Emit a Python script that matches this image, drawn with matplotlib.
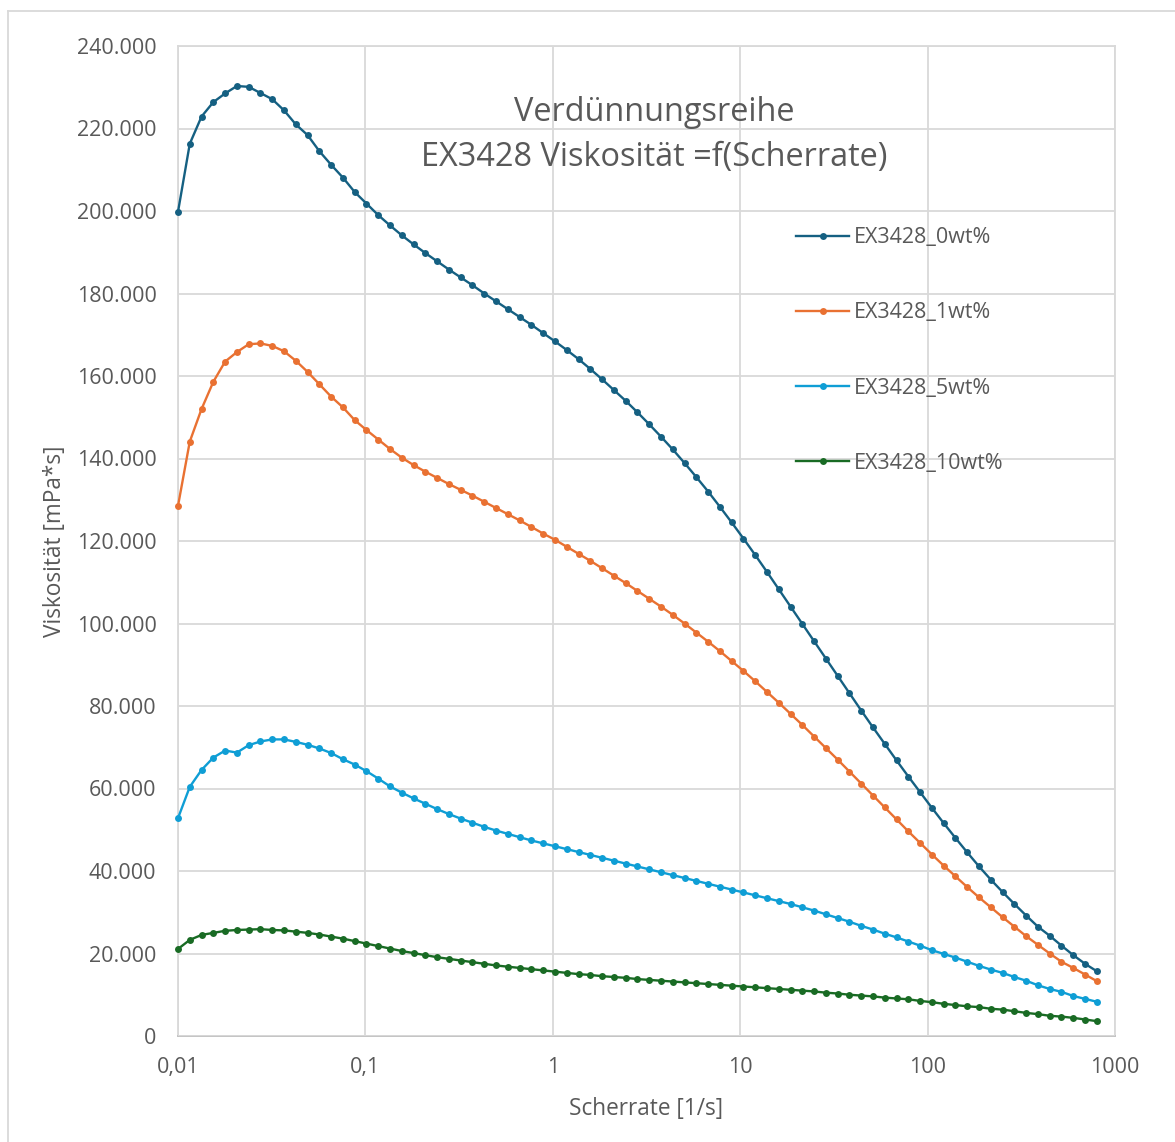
import numpy as np
import matplotlib
matplotlib.use("Agg")
import matplotlib.pyplot as plt
from matplotlib.ticker import FuncFormatter, FixedLocator
from matplotlib.lines import Line2D

plt.rcParams['font.family'] = ['Open Sans', 'DejaVu Sans']

# shear rate grid of the rheometer ramp: 79 log-spaced points, 0.01 .. 800 1/s
scherrate = np.geomspace(0.01, 800, 79)

# viscosity in mPa*s
visk_0wt = [
    199800, 216300, 222900, 226400, 228500, 230300, 230100, 228600, 227100, 224400,
    221000, 218400, 214500, 211200, 208100, 204600, 201800, 199000, 196500, 194100,
    191900, 189800, 187800, 185800, 183900, 182000, 180000, 178100, 176200, 174300,
    172400, 170400, 168400, 166300, 164100, 161700, 159200, 156600, 154000, 151200,
    148300, 145300, 142200, 138900, 135500, 132000, 128300, 124500, 120600, 116600,
    112500, 108300, 104100, 99900, 95700, 91500, 87300, 83100, 78900, 74800,
    70800, 66800, 62900, 59100, 55300, 51600, 48000, 44500, 41100, 37900,
    34900, 32000, 29200, 26500, 24300, 21900, 19600, 17500, 15700]
visk_1wt = [
    128500, 144100, 152000, 158600, 163500, 165800, 167700, 167900, 167300, 166000,
    163700, 161000, 158000, 155000, 152400, 149300, 146900, 144600, 142300, 140200,
    138400, 136800, 135300, 133800, 132400, 131000, 129500, 128000, 126500, 125000,
    123400, 121800, 120300, 118600, 116900, 115200, 113400, 111600, 109800, 107900,
    106000, 104100, 102100, 100000, 97800, 95600, 93300, 90900, 88500, 86000,
    83400, 80800, 78100, 75400, 72600, 69800, 67000, 64100, 61200, 58300,
    55400, 52500, 49600, 46800, 44000, 41300, 38700, 36100, 33600, 31200,
    28800, 26500, 24200, 22100, 20000, 18000, 16500, 14900, 13300]
visk_5wt = [
    52800, 60400, 64500, 67500, 69200, 68700, 70500, 71400, 71900, 71900,
    71300, 70600, 69700, 68600, 67100, 65800, 64200, 62400, 60500, 59000,
    57600, 56300, 55000, 53800, 52700, 51700, 50700, 49800, 49000, 48200,
    47400, 46700, 46000, 45300, 44600, 43900, 43200, 42500, 41800, 41100,
    40400, 39700, 39000, 38300, 37600, 36900, 36200, 35500, 34800, 34100,
    33400, 32700, 32000, 31200, 30400, 29500, 28600, 27700, 26700, 25800,
    24800, 23900, 22900, 21900, 20800, 19900, 19000, 18000, 17000, 16100,
    15300, 14300, 13400, 12300, 11400, 10700, 9700, 9000, 8300]
visk_10wt = [
    21100, 23300, 24500, 25000, 25500, 25700, 25800, 25900, 25700, 25600,
    25300, 25000, 24600, 24100, 23600, 23000, 22400, 21800, 21200, 20600,
    20100, 19600, 19100, 18700, 18300, 17900, 17500, 17100, 16800, 16500,
    16200, 15900, 15600, 15300, 15000, 14800, 14500, 14300, 14100, 13800,
    13600, 13400, 13200, 13000, 12800, 12600, 12400, 12200, 12000, 11800,
    11600, 11400, 11200, 11000, 10800, 10500, 10300, 10000, 9800, 9600,
    9300, 9100, 8900, 8500, 8200, 7800, 7500, 7200, 7000, 6600,
    6400, 6000, 5600, 5300, 4900, 4700, 4400, 4000, 3600]

serien = ['EX3428_0wt%', 'EX3428_1wt%', 'EX3428_5wt%', 'EX3428_10wt%']
farben = ['#156082', '#E97132', '#0F9ED5', '#196B24']
x_ticks = [0.01, 0.1, 1, 10, 100, 1000]
x_labels = ['0,01', '0,1', '1', '10', '100', '1000']
y_ticks = list(range(0, 240001, 20000))

grau = '#595959'
gitter = '#D9D9D9'

fig = plt.figure(figsize=(11.75, 11.42), dpi=100)
ax = fig.add_axes([178 / 1175, 1 - 1036 / 1142, 937 / 1175, 990 / 1142])

for werte, name, farbe in zip([visk_0wt, visk_1wt, visk_5wt, visk_10wt], serien, farben):
    ax.plot(scherrate, werte, color=farbe, lw=1.7, marker='o', ms=5,
            markeredgewidth=0, label=name, zorder=3, clip_on=False)

ax.set_xscale('log')
ax.set_xlim(0.01, 1000)
ax.set_ylim(0, 240000)
ax.xaxis.set_major_locator(FixedLocator(x_ticks))
ax.xaxis.set_minor_locator(FixedLocator([]))
ax.set_xticklabels(x_labels)
ax.yaxis.set_major_locator(FixedLocator(y_ticks))
ax.yaxis.set_major_formatter(FuncFormatter(lambda v, p: f"{int(v):,}".replace(',', '.')))

ax.grid(True, color=gitter, lw=1.3, zorder=0)
for s in ax.spines.values():
    s.set_color(gitter)
    s.set_linewidth(1.3)
    s.set_zorder(0.5)
ax.spines['bottom'].set_color('#BFBFBF')
ax.tick_params(length=0, labelsize=15.5, colors=grau)
ax.tick_params(axis='y', pad=15.5)
ax.tick_params(axis='x', pad=15)

ax.set_xlabel('Scherrate [1/s]', fontsize=16.3, color=grau, labelpad=14)
ax.set_ylabel('Viskosität [mPa*s]', fontsize=16.3, color=grau, labelpad=7)

ax.text(0.508, 0.9495, 'Verdünnungsreihe\nEX3428 Viskosität =f(Scherrate)',
        transform=ax.transAxes, ha='center', va='top', fontsize=23.4,
        color=grau, linespacing=1.47)

leg = ax.legend(loc='upper left', bbox_to_anchor=(0.639, 0.8366), frameon=False,
                fontsize=15.5, labelspacing=2.52, handlelength=2.46,
                handletextpad=0.23, labelcolor=grau)

# outer chart border
fig.add_artist(Line2D([8 / 1175, 8 / 1175], [0, 1 - 11 / 1142], color=gitter, lw=1.3))
fig.add_artist(Line2D([8 / 1175, 1], [1 - 11 / 1142, 1 - 11 / 1142], color=gitter, lw=1.3))

fig.savefig('out.png', dpi=100, facecolor='white')
